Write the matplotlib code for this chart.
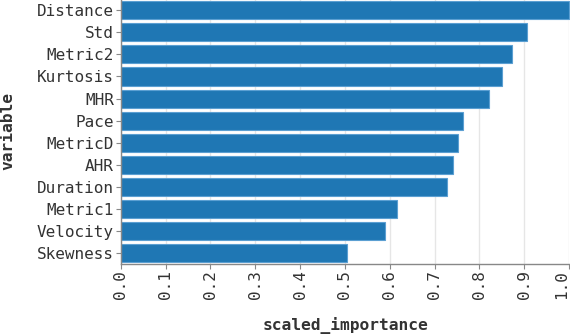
import numpy as np
import matplotlib
matplotlib.use("Agg")
import matplotlib.pyplot as plt

variables = ["Distance", "Std", "Metric2", "Kurtosis", "MHR", "Pace",
             "MetricD", "AHR", "Duration", "Metric1", "Velocity", "Skewness"]
scaled_importance = [1.0, 0.907, 0.873, 0.851, 0.822, 0.764,
                     0.753, 0.742, 0.727, 0.615, 0.589, 0.505]
xticks = [0.0, 0.1, 0.2, 0.3, 0.4, 0.5, 0.6, 0.7, 0.8, 0.9, 1.0]

plt.rcParams["font.family"] = ["DejaVu Sans Mono"]

W, H = 570, 334
fig = plt.figure(figsize=(W / 100, H / 100), dpi=100)
ax = fig.add_axes([120.7 / W, (H - 263.5) / H, 448.5 / W, 263.5 / H])

y = np.arange(len(variables))
ax.barh(y, scaled_importance, height=0.82, color="#1f77b4",
        edgecolor="#5b9fd2", linewidth=0.8, zorder=2, clip_on=False)

ax.set_ylim(len(variables) - 0.54, -0.46)
ax.set_xlim(0, 1.0)
ax.set_yticks(y)
ax.set_yticklabels(variables)
ax.set_xticks(xticks)
ax.set_xticklabels([f"{t:.1f}" for t in xticks], rotation=90, va="top", ha="center")
# keep the last label inside the canvas, like vega's label flush
ax.get_xticklabels()[-1].set_horizontalalignment("right")

ax.grid(axis="x", color="#e6e6e6", linewidth=1, zorder=0)
ax.set_axisbelow(True)
for s in ["top", "right"]:
    ax.spines[s].set_visible(False)
for s in ["left", "bottom"]:
    ax.spines[s].set_color("#888888")
    ax.spines[s].set_linewidth(1)

ax.tick_params(axis="both", colors="#888888", length=3.6, width=0.8,
               labelsize=11.5, labelcolor="#333333")
ax.tick_params(axis="y", pad=1.2)
ax.tick_params(axis="x", pad=1.5)

fig.text(345 / W, 1 - 325 / H, "scaled_importance", ha="center", va="center",
         fontsize=11.7, fontweight="bold", color="#333333")
fig.text(8 / W, 1 - 131 / H, "variable", ha="center", va="center", rotation=90,
         fontsize=11.7, fontweight="bold", color="#333333")

fig.savefig("out.png", dpi=100)
